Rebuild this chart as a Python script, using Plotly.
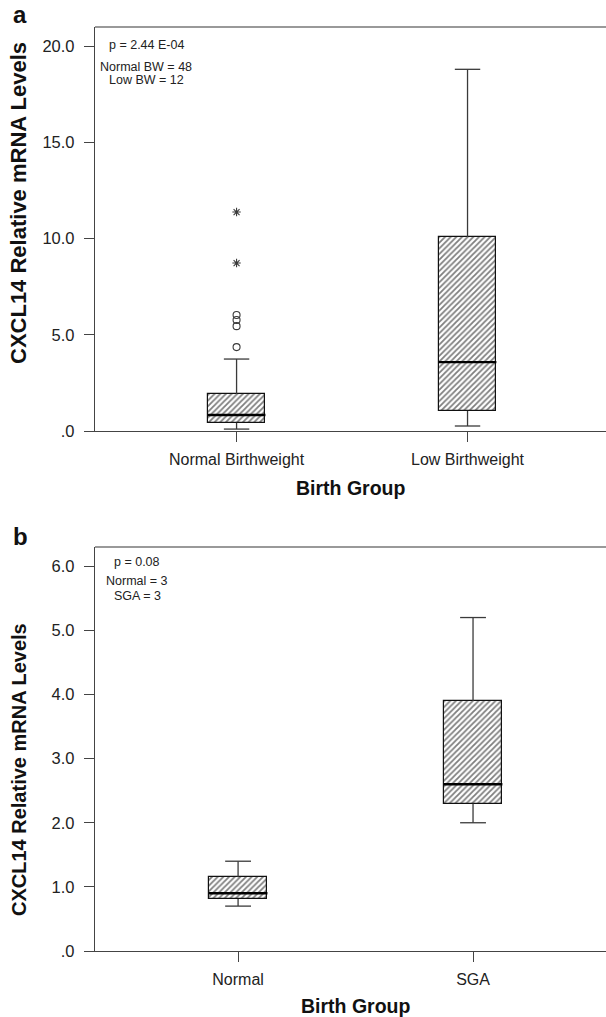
import plotly.graph_objects as go

VIEW_W = 606          # visible page width
W, H = 614, 1017      # figure is slightly wider; the right edge is clipped off-page

# ---------------- Panel a data ----------------
groups_a = ["Normal Birthweight", "Low Birthweight"]
q1_a = [0.42, 1.04]
med_a = [0.83, 3.58]
q3_a = [1.92, 10.08]
lo_a = [0.10, 0.26]
hi_a = [3.74, 18.80]
outliers_a = [4.36, 5.45, 5.77, 6.03]      # Normal Birthweight, circles
extremes_a = [8.73, 11.38]                  # Normal Birthweight, stars
yticks_a = [0, 5, 10, 15, 20]
yticktext_a = [".0", "5.0", "10.0", "15.0", "20.0"]
stats_a = ["p = 2.44 E-04", "Normal BW = 48", "Low BW = 12"]

# ---------------- Panel b data ----------------
groups_b = ["Normal", "SGA"]
q1_b = [0.81, 2.30]
med_b = [0.90, 2.60]
q3_b = [1.15, 3.90]
lo_b = [0.70, 2.00]
hi_b = [1.40, 5.20]
yticks_b = [0, 1, 2, 3, 4, 5, 6]
yticktext_b = [".0", "1.0", "2.0", "3.0", "4.0", "5.0", "6.0"]
stats_b = ["p = 0.08", "Normal = 3", "SGA = 3"]

BOX_W = 0.25
CAP_HALF = 0.055
LINE_C = "#3a3a3a"
FONT = "Liberation Sans"


def px_x(p):
    return p / W


def px_y(p):
    return 1 - p / H


def panel_traces(q1, med, q3, lo, hi, xa, ya):
    idx = list(range(len(q1)))
    traces = []
    traces.append(go.Bar(
        x=idx, y=[b - a for a, b in zip(q1, q3)], base=q1, width=BOX_W,
        marker=dict(color="white", line=dict(color="#111", width=1.2),
                    pattern=dict(shape="/", fgcolor="#000", bgcolor="white",
                                 size=4, solidity=0.45)),
        xaxis=xa, yaxis=ya, showlegend=False, hoverinfo="skip"))
    wx, wy = [], []
    for i in idx:
        wx += [i, i, None, i, i, None]
        wy += [q3[i], hi[i], None, q1[i], lo[i], None]
        wx += [i - CAP_HALF, i + CAP_HALF, None, i - CAP_HALF, i + CAP_HALF, None]
        wy += [hi[i], hi[i], None, lo[i], lo[i], None]
    traces.append(go.Scatter(x=wx, y=wy, mode="lines",
                             line=dict(color=LINE_C, width=1.3),
                             xaxis=xa, yaxis=ya, showlegend=False, hoverinfo="skip"))
    mx, my = [], []
    for i in idx:
        mx += [i - BOX_W / 2, i + BOX_W / 2, None]
        my += [med[i], med[i], None]
    traces.append(go.Scatter(x=mx, y=my, mode="lines",
                             line=dict(color="#000", width=2.4),
                             xaxis=xa, yaxis=ya, showlegend=False, hoverinfo="skip"))
    return traces


fig = go.Figure()
for t in panel_traces(q1_a, med_a, q3_a, lo_a, hi_a, "x", "y"):
    fig.add_trace(t)
fig.add_trace(go.Scatter(x=[0] * len(outliers_a), y=outliers_a, mode="markers",
                         marker=dict(symbol="circle-open", size=7, color=LINE_C,
                                     line=dict(width=1.1)),
                         xaxis="x", yaxis="y", showlegend=False, hoverinfo="skip"))
fig.add_trace(go.Scatter(x=[0] * len(extremes_a), y=extremes_a, mode="markers",
                         marker=dict(symbol="asterisk-open", size=7, color=LINE_C,
                                     line=dict(width=1.1, color=LINE_C)),
                         xaxis="x", yaxis="y", showlegend=False, hoverinfo="skip"))
for t in panel_traces(q1_b, med_b, q3_b, lo_b, hi_b, "x2", "y2"):
    fig.add_trace(t)

xcommon = dict(showgrid=False, zeroline=False, showline=True, linecolor="#444",
               linewidth=1.3, mirror=False, ticks="outside", ticklen=10,
               tickwidth=1.3, tickcolor="#444", automargin=False,
               tickfont=dict(family=FONT, size=16, color="#222"),
               ticklabelstandoff=4)
ycommon = dict(showgrid=False, zeroline=False, showline=True, linecolor="#444",
               linewidth=1.3, mirror=False, ticks="outside", ticklen=10, tickwidth=1.3,
               tickcolor="#444", automargin=False,
               tickfont=dict(family=FONT, size=16.5, color="#222"),
               ticklabelstandoff=6)

fig.update_layout(
    width=W, height=H, margin=dict(l=0, r=0, t=0, b=0, autoexpand=False),
    plot_bgcolor="white", paper_bgcolor="white", bargap=0,
    xaxis=dict(domain=[px_x(95), 1], range=[-0.613, (W - 236.5) / 231], anchor="y",
               tickvals=[0, 1], ticktext=groups_a, **xcommon),
    yaxis=dict(domain=[px_y(431), px_y(27)], range=[0, 21], anchor="x",
               tickvals=yticks_a, ticktext=yticktext_a, **ycommon),
    xaxis2=dict(domain=[px_x(95), 1], range=[-0.609, (W - 238) / 235], anchor="y2",
                tickvals=[0, 1], ticktext=groups_b, **xcommon),
    yaxis2=dict(domain=[px_y(951), px_y(547)], range=[0, 6.3], anchor="x2",
                tickvals=yticks_b, ticktext=yticktext_b, **ycommon),
)

# top border lines of each panel (no right border in the reference)
for xr, yr in [("x domain", "y domain"), ("x2 domain", "y2 domain")]:
    fig.add_shape(type="line", xref=xr, yref=yr, x0=0, x1=1, y0=1, y1=1,
                  line=dict(color="#777", width=1.5))

ann = []
# panel letters
ann.append(dict(text="<b>a</b>", x=px_x(20), y=px_y(15), font=dict(family=FONT, size=24, color="#111")))
ann.append(dict(text="<b>b</b>", x=px_x(20), y=px_y(536), font=dict(family=FONT, size=24, color="#111")))
# y axis titles
ann.append(dict(text="<b>CXCL14 Relative mRNA Levels</b>", x=px_x(19), y=px_y(203), textangle=-90,
                font=dict(family=FONT, size=22, color="#111")))
ann.append(dict(text="<b>CXCL14 Relative mRNA Levels</b>", x=px_x(19), y=px_y(770), textangle=-90,
                font=dict(family=FONT, size=20, color="#111")))
# x axis titles
ann.append(dict(text="<b>Birth Group</b>", x=px_x(350), y=px_y(488), font=dict(family=FONT, size=19.5, color="#111")))
ann.append(dict(text="<b>Birth Group</b>", x=px_x(355), y=px_y(1006), font=dict(family=FONT, size=19.5, color="#111")))
# stats text
for txt, yy in zip(stats_a, [45, 67, 80]):
    ann.append(dict(text=txt, x=px_x(146), y=px_y(yy), font=dict(family=FONT, size=12.5, color="#222")))
for txt, yy in zip(stats_b, [562, 581, 596]):
    ann.append(dict(text=txt, x=px_x(137), y=px_y(yy), font=dict(family=FONT, size=12.5, color="#222")))
for a in ann:
    a.update(xref="paper", yref="paper", showarrow=False, xanchor="center", yanchor="middle")
fig.update_layout(annotations=ann)

post = (
    "document.body.style.margin='0';"
    "document.body.style.overflow='hidden';"
    "var gd=document.querySelector('.plotly-graph-div');"
    "var p=gd.parentElement;p.style.width='%dpx';p.style.overflow='hidden';"
    "document.documentElement.style.overflow='hidden';" % VIEW_W
)
fig.write_html("out.html", config={"displayModeBar": False}, post_script=post)
